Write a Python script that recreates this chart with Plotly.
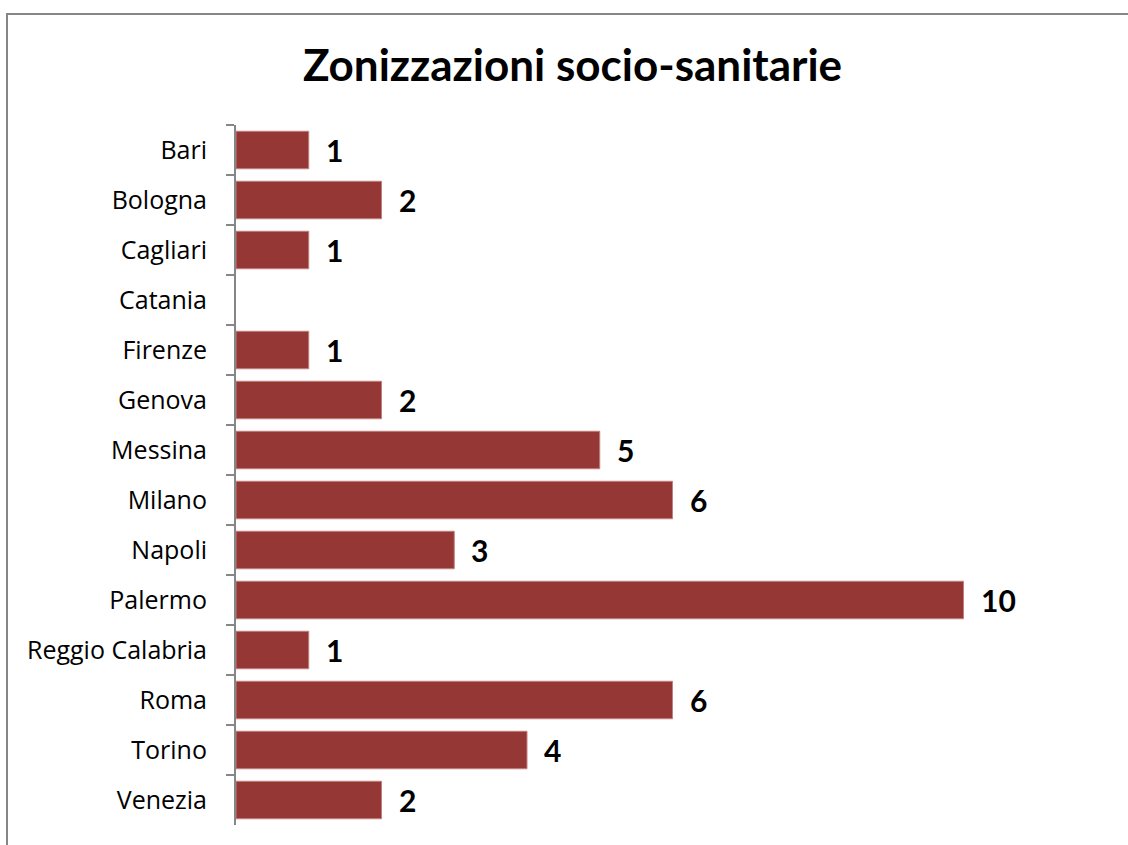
import plotly.graph_objects as go

# Number of socio-health zones per city
cities = ["Bari", "Bologna", "Cagliari", "Catania", "Firenze", "Genova", "Messina",
          "Milano", "Napoli", "Palermo", "Reggio Calabria", "Roma", "Torino", "Venezia"]
zones = [1, 2, 1, None, 1, 2, 5, 6, 3, 10, 1, 6, 4, 2]

BAR_COLOR = "#953735"
AXIS_COLOR = "#868686"
FONT = "Lato"
TICK_FONT = "Open Sans"

fig = go.Figure()
fig.add_trace(go.Bar(
    y=cities,
    x=zones,
    orientation="h",
    marker=dict(color=BAR_COLOR, line=dict(color="#c0807e", width=1)),
    hoverinfo="x+y",
))

# Value labels to the right of each bar
for city, v in zip(cities, zones):
    if v is None:
        continue
    fig.add_annotation(
        x=v, y=city, text=f"<b>{v}</b>", showarrow=False,
        xanchor="left", yanchor="middle", xshift=15,
        font=dict(family=FONT, size=30, color="black"),
    )

# Plot-area geometry (pixels) used to place the outer frame
W, H = 1128, 845
L, R, T, B = 236, 1109, 125, 825
pw, ph = R - L, B - T


def px_x(x):
    return (x - L) / pw


def px_y(y):
    return (B - y) / ph


fig.add_shape(
    type="rect", xref="paper", yref="paper",
    x0=px_x(7), x1=px_x(1140), y0=px_y(14), y1=px_y(870),
    line=dict(color=AXIS_COLOR, width=2), fillcolor="rgba(0,0,0,0)", layer="below",
)

fig.update_layout(
    width=W, height=H,
    margin=dict(l=L, r=W - R, t=T, b=H - B),
    paper_bgcolor="white", plot_bgcolor="white",
    showlegend=False,
    bargap=0.25,
    title=dict(
        text="<b>Zonizzazioni socio-sanitarie</b>",
        x=572.5 / W, xanchor="center", xref="container",
        y=1 - 66 / H, yanchor="middle", yref="container",
        font=dict(family=FONT, size=44, color="black"),
    ),
    xaxis=dict(range=[0, 12], visible=False, fixedrange=True),
    yaxis=dict(
        autorange="reversed",
        type="category",
        showline=True, linecolor=AXIS_COLOR, linewidth=2,
        ticks="outside", tickson="boundaries", ticklen=8,
        tickcolor=AXIS_COLOR, tickwidth=2,
        ticklabelstandoff=22,
        showgrid=False,
        tickfont=dict(family=TICK_FONT, size=25, color="black"),
    ),
)

fig.write_html("out.html")
